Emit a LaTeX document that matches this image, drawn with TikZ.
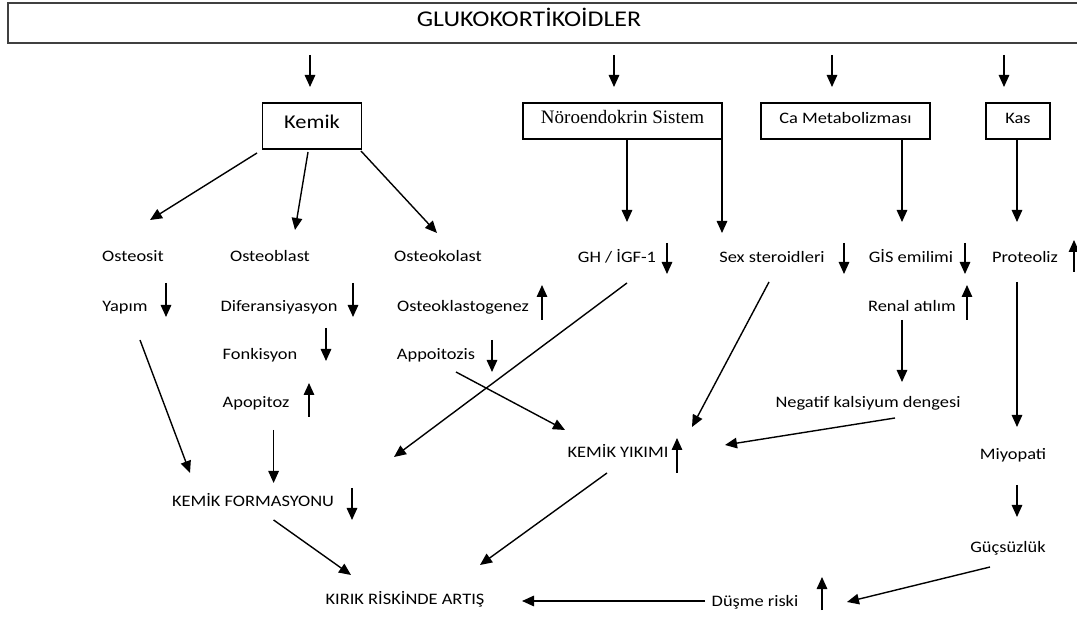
\documentclass[tikz,border=0pt]{standalone}
\usepackage{fontspec}
\setmainfont{Carlito}[FakeStretch=1.15]
\newfontfamily\noroFont{Liberation Serif}
\usetikzlibrary{arrows.meta}
\begin{document}
\begin{tikzpicture}[x=1pt,y=-1pt,
    every node/.style={inner sep=1pt, text height=1em, text depth=0.08em, font=\fontsize{16}{19}\selectfont},
    box/.style={draw, line width=1.2pt, minimum height=36pt, inner sep=0pt, text height=0.8em, text depth=0.2em},
    con/.style={line width=1.4pt, -{Triangle[length=12pt,width=10.5pt]}}]
            \useasboundingbox (0,0) rectangle (1077,617);
            \fill [white] (0,0) rectangle (1077,617);
            \node [draw=black!75, line width=2pt, minimum width=1082pt, minimum height=40pt] (glu) at (549,23) {};
            \node [font=\fontsize{22.5}{26}\selectfont, text height=0.8em, text depth=0.1em] (glutext) at (529,23) {GLUKOKORTİKOİDLER};
            \node [box, minimum width=99pt, minimum height=46pt, font=\fontsize{19.5}{22}\selectfont] (kemik) at (312,126) {Kemik};
            \node [box, minimum width=199pt, font=\fontsize{19}{22}\noroFont] (noro) at (622.5,121) {Nöroendokrin Sistem};
            \node [box, minimum width=169pt] (ca) at (845.5,121) {Ca Metabolizması};
            \node [box, minimum width=64pt] (kas) at (1018,121) {Kas};
            \draw [con] ([shift={(-239,32)}]glu.center) -- ([shift={(-2,-39)}]kemik.center);
            \draw [con] ([shift={(65,32)}]glu.center) -- ([shift={(-8.5,-34)}]noro.center);
            \draw [con] ([shift={(283,32)}]glu.center) -- ([shift={(-13.5,-34)}]ca.center);
            \draw [con] ([shift={(455,32)}]glu.center) -- ([shift={(-14,-34)}]kas.center);
            \node (osteosit) at (133,257) {Osteosit};
            \node (osteoblast) at (270,257) {Osteoblast};
            \node (osteokolast) at (438,257) {Osteokolast};
            \node (yapim) at (125,307) {Yapım};
            \node (diferans) at (279,307) {Diferansiyasyon};
            \node (fonk) at (260,355) {Fonkisyon};
            \node (apop) at (256,403) {Apopitoz};
            \node (oklastog) at (463,307) {Osteoklastogenez};
            \node (appoit) at (436,355) {Appoitozis};
            \node (gh) at (617,258) {GH / İGF-1};
            \node (sex) at (772,258) {Sex steroidleri};
            \node (gis) at (911,258) {GİS emilimi};
            \node (proteoliz) at (1025,258) {Proteoliz};
            \node (renal) at (912,307) {Renal atılım};
            \node (negatif) at (868,403) {Negatif kalsiyum dengesi};
            \node (ky) at (618,453) {KEMİK YIKIMI};
            \node (miyopati) at (1013,455) {Miyopati};
            \node (gucsuz) at (1008,548) {Güçsüzlük};
            \node (kf) at (253,502) {KEMİK FORMASYONU};
            \node (kirik) at (405,600) {KIRIK RİSKİNDE ARTIŞ};
            \node (dusme) at (755,602) {Düşme riski};
            \draw [con] ([shift={(-55,27)}]kemik.center) -- ([shift={(17,-37)}]osteosit.center);
            \draw [con] ([shift={(-4,26)}]kemik.center) -- ([shift={(25,-27)}]osteoblast.center);
            \draw [con] ([shift={(49,25)}]kemik.center) -- ([shift={(-1,-24)}]osteokolast.center);
            \draw [con] ([shift={(4.5,18)}]noro.center) -- ([shift={(10,-36)}]gh.center);
            \draw [con] ([shift={(99.5,18)}]noro.center) -- ([shift={(-50,-25)}]sex.center);
            \draw [con] ([shift={(56.5,18)}]ca.center) -- ([shift={(-9,-36)}]gis.center);
            \draw [con] ([shift={(-1,18)}]kas.center) -- ([shift={(-8,-36)}]proteoliz.center);
            \draw [con] ([shift={(15,33)}]yapim.center) -- ([shift={(-63,-29)}]kf.center);
            \draw [con] ([shift={(17.6,27)}]apop.center) -- ([shift={(20.6,-19)}]kf.center);
            \draw [con] ([shift={(10,25)}]gh.center) -- ([shift={(141,-45)}]kf.center);
            \draw [con] ([shift={(20,17)}]appoit.center) -- ([shift={(-53,-23)}]ky.center);
            \draw [con] ([shift={(-3,24)}]sex.center) -- ([shift={(74,-26)}]ky.center);
            \draw [con] ([shift={(-10,13)}]renal.center) -- ([shift={(34,-21)}]negatif.center);
            \draw [con] ([shift={(27,15)}]negatif.center) -- ([shift={(107,-8)}]ky.center);
            \draw [con] ([shift={(-8,24)}]proteoliz.center) -- ([shift={(4,-28)}]miyopati.center);
            \draw [con] ([shift={(4,30)}]miyopati.center) -- ([shift={(9,-31)}]gucsuz.center);
            \draw [con] ([shift={(20.6,18)}]kf.center) -- ([shift={(-54,-25)}]kirik.center);
            \draw [con] ([shift={(-11,20)}]ky.center) -- ([shift={(75,-35)}]kirik.center);
            \draw [con] ([shift={(-50,-1)}]dusme.center) -- ([shift={(117,1)}]kirik.center);
            \draw [con] ([shift={(-18,19)}]gucsuz.center) -- ([shift={(92,0)}]dusme.center);
            \draw [con] (166,283) -- (166,317);
            \draw [con] (353,283) -- (353,317);
            \draw [con] (326,328) -- (326,361);
            \draw [con] (492,340) -- (492,372);
            \draw [con] (667,243) -- (667,274);
            \draw [con] (844,243) -- (844,274);
            \draw [con] (965,243) -- (965,274);
            \draw [con] (352,488) -- (352,520);
            \draw [con] (309,417) -- (309,383);
            \draw [con] (542,320) -- (542,285);
            \draw [con] (1074,272) -- (1074,240);
            \draw [con] (967,320) -- (967,285);
            \draw [con] (677,473) -- (677,438);
            \draw [con] (822,610) -- (822,577);
\end{tikzpicture}
\end{document}
